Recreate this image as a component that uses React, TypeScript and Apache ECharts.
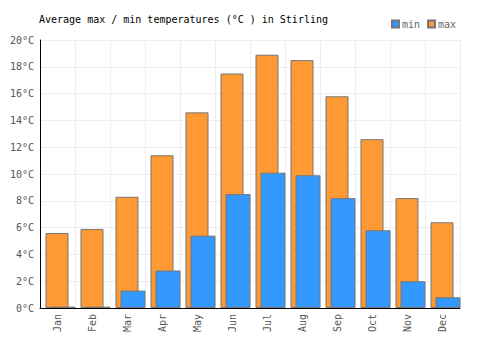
import React, { useEffect, useRef } from "react";
import * as echarts from "echarts";

const months = ["Jan", "Feb", "Mar", "Apr", "May", "Jun", "Jul", "Aug", "Sep", "Oct", "Nov", "Dec"];
const minTemps = [0.1, 0.1, 1.3, 2.8, 5.4, 8.5, 10.1, 9.9, 8.2, 5.8, 2.0, 0.8];
const maxTemps = [5.6, 5.9, 8.3, 11.4, 14.6, 17.5, 18.9, 18.5, 15.8, 12.6, 8.2, 6.4];
const yTicks = { min: 0, max: 20, interval: 2 };

const FONT = "'DejaVu Sans Mono', monospace";

export default function App() {
  const ref = useRef<HTMLDivElement>(null);
  useEffect(() => {
    if (!ref.current) return;
    const chart = echarts.init(ref.current, null, { renderer: "svg" });
    const gap = "-78.26%";
    chart.setOption({
      animation: false,
      textStyle: { fontFamily: FONT },
      title: {
        text: "Average max / min temperatures (°C ) in Stirling",
        left: 34,
        top: 9,
        textStyle: { fontFamily: FONT, fontSize: 10, fontWeight: "normal", color: "#000" },
      },
      legend: {
        data: ["min", "max"],
        left: 386,
        top: 14,
        itemWidth: 7,
        itemHeight: 7,
        itemGap: 7,
        icon: "rect",
        textStyle: { fontFamily: FONT, fontSize: 10, color: "#666", padding: [0, 0, 0, -2] },
      },
      grid: { left: 40, right: 40, top: 40, bottom: 42, containLabel: false },
      xAxis: {
        type: "category",
        data: months,
        axisLine: { show: true, lineStyle: { color: "#000", width: 1 } },
        axisTick: { show: false },
        splitLine: { show: true, lineStyle: { color: "#eeeeee" } },
        axisLabel: { rotate: 90, fontFamily: FONT, fontSize: 10, color: "#555", margin: 6, interval: 0 },
      },
      yAxis: {
        type: "value",
        min: yTicks.min,
        max: yTicks.max,
        interval: yTicks.interval,
        axisLine: { show: true, lineStyle: { color: "#000", width: 1 } },
        axisTick: { show: false },
        splitLine: { show: true, lineStyle: { color: "#eeeeee" } },
        axisLabel: { formatter: "{value}°C", fontFamily: FONT, fontSize: 10, color: "#555", margin: 6 },
      },
      series: [
        {
          name: "_pad",
          type: "bar",
          data: [],
          barWidth: 27.6,
          barGap: gap,
          silent: true,
        },
        {
          name: "max",
          type: "bar",
          data: maxTemps,
          barWidth: 23,
          barGap: gap,
          itemStyle: { color: "#ff9933", borderColor: "#777777", borderWidth: 1 },
        },
        {
          name: "min",
          type: "bar",
          data: minTemps,
          barWidth: 25,
          barGap: gap,
          itemStyle: { color: "#3399ff", borderColor: "#777777", borderWidth: 1 },
        },
      ],
    });
    return () => chart.dispose();
  }, []);
  return <div ref={ref} style={{ position: "absolute", left: 0, top: 0, width: 500, height: 350 }} />;
}
